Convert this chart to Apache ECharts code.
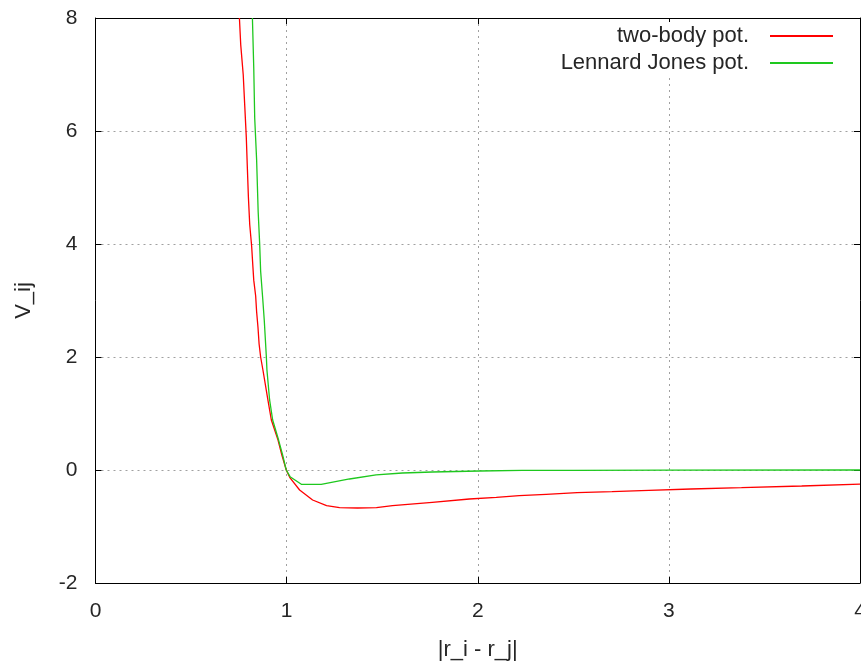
<!DOCTYPE html>
<html>
<head>
<meta charset="utf-8">
<script src="https://cdn.jsdelivr.net/npm/echarts@6/dist/echarts.min.js"></script>
<style>html,body{margin:0;padding:0;background:#fff}#c{width:861px;height:665px}</style>
</head>
<body>
<div id="c"></div>
<script>
var seriesNames = ['two-body pot.', 'Lennard Jones pot.'];
var xTicks = [0, 1, 2, 3, 4];
var yTicks = [-2, 0, 2, 4, 6, 8];
var twoBody = [
  [0.753, 8.0], [0.760, 7.52], [0.773, 6.99], [0.781, 6.44], [0.789, 5.89],
  [0.794, 5.40], [0.800, 4.83], [0.807, 4.34], [0.817, 3.96], [0.822, 3.68],
  [0.828, 3.36], [0.838, 3.08], [0.843, 2.80], [0.850, 2.53], [0.856, 2.23],
  [0.864, 2.00], [0.876, 1.77], [0.902, 1.24], [0.920, 0.885], [0.955, 0.53],
  [0.975, 0.265], [0.998, 0.0], [1.018, -0.14], [1.068, -0.354], [1.136, -0.531],
  [1.209, -0.632], [1.277, -0.667], [1.371, -0.673], [1.47, -0.667], [1.554, -0.632],
  [1.762, -0.572], [1.956, -0.513], [2.097, -0.483], [2.217, -0.455], [2.358, -0.43],
  [2.52, -0.402], [2.702, -0.384], [2.895, -0.359], [3.115, -0.336], [3.38, -0.313],
  [3.695, -0.283], [4.0, -0.25]
];
var lennardJones = [
  [0.821, 8.0], [0.828, 7.12], [0.833, 6.23], [0.843, 5.49], [0.851, 4.58],
  [0.859, 4.0], [0.864, 3.52], [0.875, 3.03], [0.883, 2.65], [0.894, 2.0],
  [0.897, 1.77], [0.911, 1.24], [0.927, 0.885], [0.958, 0.53], [0.979, 0.265],
  [0.998, 0.0], [1.018, -0.118], [1.077, -0.253], [1.181, -0.253], [1.329, -0.159],
  [1.468, -0.088], [1.606, -0.053], [1.762, -0.035], [2.008, -0.018], [2.232, -0.008],
  [2.5, -0.005], [3.0, -0.001], [4.0, 0.0]
];

var FONT = 'Liberation Sans';
var TXT = '#262626';
var chart = echarts.init(document.getElementById('c'), null, {renderer: 'canvas'});
var gridLine = {show: true, lineStyle: {color: '#a0a0a0', type: [2, 4], width: 1}};
var axisLine = {show: true, onZero: false, lineStyle: {color: '#000', width: 1}};
var tickIn = {show: true, inside: true, length: 6, lineStyle: {color: '#000'}};

function legendFor(name, top) {
  return {
    data: [name], right: 20, top: top, orient: 'vertical', align: 'right',
    icon: 'rect', itemWidth: 63, itemHeight: 2, padding: [3, 8, 3, 8],
    backgroundColor: '#fff', selectedMode: false,
    textStyle: {fontFamily: FONT, fontSize: 22, color: TXT, padding: [0, 16, 0, 0]}
  };
}

chart.setOption({
  animation: false,
  backgroundColor: '#fff',
  grid: {left: 95.5, top: 18, right: 1, bottom: 82, containLabel: false, outerBoundsMode: 'none'},
  legend: [legendFor(seriesNames[0], 22), legendFor(seriesNames[1], 49)],
  xAxis: [{
    type: 'value', min: xTicks[0], max: xTicks[xTicks.length - 1], interval: 1,
    name: '|r_i - r_j|', nameLocation: 'middle', nameGap: 56,
    nameTextStyle: {fontFamily: FONT, fontSize: 22, color: TXT},
    axisLine: axisLine, axisTick: tickIn, splitLine: gridLine,
    axisLabel: {fontFamily: FONT, fontSize: 21, color: TXT, margin: 18}
  }, {
    type: 'value', position: 'top', min: xTicks[0], max: xTicks[xTicks.length - 1], interval: 1,
    axisLine: axisLine, axisTick: tickIn, splitLine: {show: false}, axisLabel: {show: false}
  }],
  yAxis: [{
    type: 'value', min: yTicks[0], max: yTicks[yTicks.length - 1], interval: 2,
    name: 'V_ij', nameLocation: 'middle', nameGap: 61, nameRotate: 90,
    nameTextStyle: {fontFamily: FONT, fontSize: 22, color: TXT},
    axisLine: axisLine, axisTick: tickIn, splitLine: gridLine,
    axisLabel: {fontFamily: FONT, fontSize: 21, color: TXT, margin: 18}
  }, {
    type: 'value', position: 'right', min: yTicks[0], max: yTicks[yTicks.length - 1], interval: 2,
    axisLine: axisLine, axisTick: tickIn, splitLine: {show: false}, axisLabel: {show: false}
  }],
  series: [{
    name: seriesNames[0], type: 'line', data: twoBody, symbol: 'none', clip: true,
    lineStyle: {color: '#ff0000', width: 1.3}, itemStyle: {color: '#ff0000'}
  }, {
    name: seriesNames[1], type: 'line', data: lennardJones, symbol: 'none', clip: true,
    lineStyle: {color: '#1ec81e', width: 1.3}, itemStyle: {color: '#1ec81e'}
  }]
});
</script>
</body>
</html>
